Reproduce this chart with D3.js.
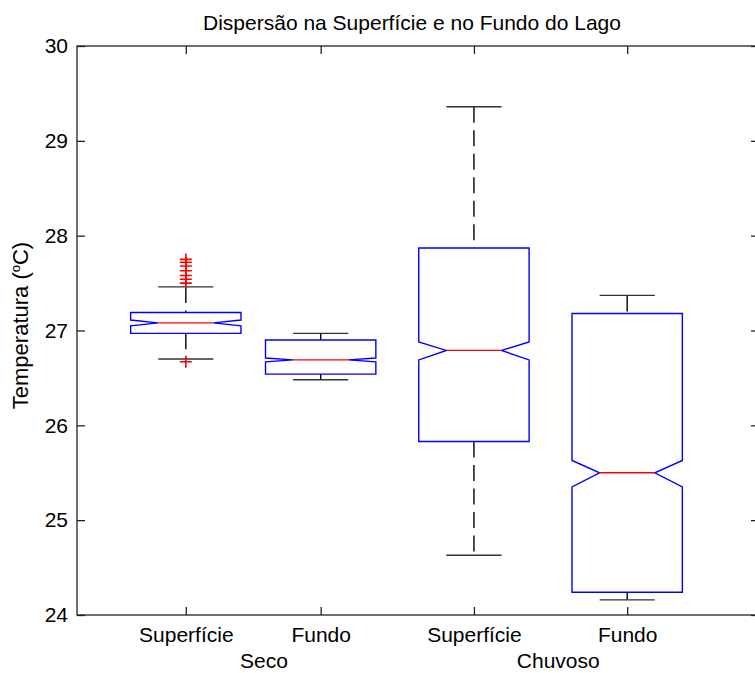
<!DOCTYPE html>
<html>
<head>
<meta charset="utf-8">
<script src="https://cdn.jsdelivr.net/npm/d3@7"></script>
<style>
  body { margin: 0; background: #fff; }
  svg text { font-family: "Liberation Sans", Arial, sans-serif; fill: #000; }
</style>
</head>
<body>
<div id="chart"></div>
<script>
// boxplot values (temperature, ºC)
const groups = ["Seco", "Chuvoso"];
const groupPos = [1.51, 3.43];
const labels = ["Superfície", "Fundo", "Superfície", "Fundo"];
const positions = [1, 1.88, 2.88, 3.88];
const q1 = [26.97, 26.54, 25.83, 24.24];
const median = [27.08, 26.69, 26.79, 25.50];
const q3 = [27.19, 26.90, 27.87, 27.18];
const notchLo = [27.05, 26.67, 26.69, 25.35];
const notchHi = [27.11, 26.71, 26.88, 25.63];
const whiskerLo = [26.70, 26.48, 24.63, 24.16];
const whiskerHi = [27.46, 26.97, 29.36, 27.37];
const outliers = [
    [27.75, 27.72, 27.68, 27.63, 27.58, 27.54, 27.50, 26.67],
    [], [], []
];
const yTicks = [24, 25, 26, 27, 28, 29, 30];

const margin = {top: 46, right: -4, bottom: 58, left: 77};
const W = 755, H = 673;
const width = W - margin.left - margin.right;
const height = H - margin.top - margin.bottom;

const svg = d3.select("#chart").append("svg")
    .attr("width", W)
    .attr("height", H)
    .style("display", "block");
const g = svg.append("g")
    .attr("transform", `translate(${margin.left},${margin.top})`);

const x = d3.scaleLinear().domain([0.29, 4.74]).range([0, width]);
const y = d3.scaleLinear().domain([24, 30]).range([height, 0]);

const halfBox = 0.36, halfCap = 0.18;
const tickLen = 8;

// axes with inward ticks on all four sides
const yLeft = g.append("g")
    .call(d3.axisLeft(y).tickValues(yTicks).tickFormat(d3.format("d"))
        .tickSize(-tickLen).tickPadding(9));
const yRight = g.append("g")
    .attr("transform", `translate(${width},0)`)
    .call(d3.axisRight(y).tickValues(yTicks).tickFormat("").tickSize(-tickLen));
const xBottom = g.append("g")
    .attr("transform", `translate(0,${height})`)
    .call(d3.axisBottom(x).tickValues(positions).tickFormat((d, i) => labels[i])
        .tickSize(-tickLen).tickPadding(12));
const xTop = g.append("g")
    .call(d3.axisTop(x).tickValues(positions).tickFormat("").tickSize(-tickLen));

[yLeft, yRight, xBottom, xTop].forEach(a => {
    a.select(".domain").remove();
    a.selectAll("line").attr("stroke", "#222").attr("stroke-width", 1.3);
    a.selectAll("text").style("font-size", "21px").attr("fill", "#000");
});

g.append("rect")
    .attr("width", width)
    .attr("height", height)
    .attr("fill", "none")
    .attr("stroke", "#222")
    .attr("stroke-width", 1.3);

// group labels
g.selectAll(".grp")
    .data(groups)
    .enter()
    .append("text")
    .attr("class", "grp")
    .attr("x", (d, i) => x(groupPos[i]))
    .attr("y", height + 53)
    .attr("text-anchor", "middle")
    .style("font-size", "21px")
    .text(d => d);

// boxes
const idx = d3.range(labels.length);

// whiskers (dashed, drawn top to bottom)
g.selectAll(".wHi").data(idx).enter().append("line")
    .attr("class", "wHi")
    .attr("x1", i => x(positions[i])).attr("x2", i => x(positions[i]))
    .attr("y1", i => y(whiskerHi[i])).attr("y2", i => y(q3[i]))
    .attr("stroke", "#000").attr("stroke-width", 1.4)
    .attr("stroke-dasharray", "16,7.5");
g.selectAll(".wLo").data(idx).enter().append("line")
    .attr("class", "wLo")
    .attr("x1", i => x(positions[i])).attr("x2", i => x(positions[i]))
    .attr("y1", i => y(q1[i])).attr("y2", i => y(whiskerLo[i]))
    .attr("stroke", "#000").attr("stroke-width", 1.4)
    .attr("stroke-dasharray", "16,7.5");

// whisker caps
[whiskerHi, whiskerLo].forEach((arr, k) => {
    g.selectAll(".cap" + k).data(idx).enter().append("line")
        .attr("class", "cap" + k)
        .attr("x1", i => x(positions[i] - halfCap))
        .attr("x2", i => x(positions[i] + halfCap))
        .attr("y1", i => y(arr[i])).attr("y2", i => y(arr[i]))
        .attr("stroke", "#333").attr("stroke-width", 1.4);
});

// notched box outline
g.selectAll(".box").data(idx).enter().append("path")
    .attr("class", "box")
    .attr("d", i => {
        const L = x(positions[i] - halfBox), R = x(positions[i] + halfBox);
        const inset = (R - L) / 4;
        const pts = [
            [L, y(q3[i])], [L, y(notchHi[i])], [L + inset, y(median[i])],
            [L, y(notchLo[i])], [L, y(q1[i])], [R, y(q1[i])],
            [R, y(notchLo[i])], [R - inset, y(median[i])], [R, y(notchHi[i])],
            [R, y(q3[i])]
        ];
        return d3.line()(pts) + "Z";
    })
    .attr("fill", "none")
    .attr("stroke", "#0000ff")
    .attr("stroke-width", 1.4);

// medians
g.selectAll(".med").data(idx).enter().append("line")
    .attr("class", "med")
    .attr("x1", i => x(positions[i] - halfBox / 2))
    .attr("x2", i => x(positions[i] + halfBox / 2))
    .attr("y1", i => y(median[i])).attr("y2", i => y(median[i]))
    .attr("stroke", "#ff0000").attr("stroke-width", 1.4);

// outliers as red plus signs
const outPts = [];
outliers.forEach((arr, i) => arr.forEach(v => outPts.push({i: i, v: v})));
g.selectAll(".out").data(outPts).enter().append("path")
    .attr("class", "out")
    .attr("transform", d => `translate(${x(positions[d.i])},${y(d.v)})`)
    .attr("d", "M-6,0H6M0,-6V6")
    .attr("stroke", "#ff0000")
    .attr("stroke-width", 1.6);

// title
svg.append("text")
    .attr("x", 412)
    .attr("y", 30)
    .attr("text-anchor", "middle")
    .style("font-size", "21px")
    .text("Dispersão na Superfície e no Fundo do Lago");

// y label with superscript o
const yl = svg.append("text")
    .attr("transform", `translate(28,${margin.top + height / 2 - 5}) rotate(-90)`)
    .attr("text-anchor", "middle")
    .style("font-size", "22px");
yl.append("tspan").text("Temperatura (");
yl.append("tspan").attr("dy", -8).style("font-size", "13px").text("o");
yl.append("tspan").attr("dy", 8).text("C)");
</script>
</body>
</html>
